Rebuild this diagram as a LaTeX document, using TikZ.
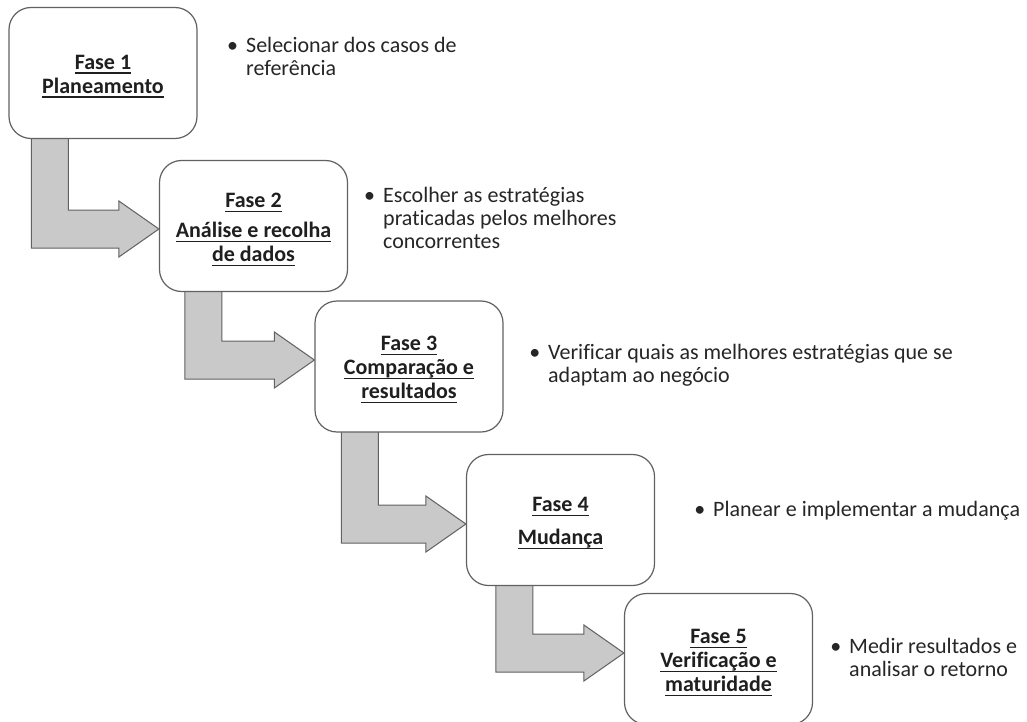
\documentclass[tikz,border=0pt]{standalone}
\usepackage{fontspec}
\setmainfont{Carlito}[Ligatures=NoCommon]
\usetikzlibrary{calc}

% underlined text with a fixed rule position below the baseline
\newsavebox\ulinebox
\newcommand{\ulx}[1]{\sbox\ulinebox{#1}\rlap{\rule[-4.4pt]{\wd\ulinebox}{1.2pt}}\usebox\ulinebox}
% extra room above the first line of a phase label
\newcommand{\topstrut}{\rule{0pt}{21pt}}

\pgfdeclarelayer{background}
\pgfsetlayers{background,main}

\tikzset{
  phase/.style={draw=black!62, line width=1.2pt, fill=white,
    rounded corners=22pt, minimum width=188pt, minimum height=131pt,
    inner sep=0pt, align=center, text=black!88,
    font=\fontsize{22}{24}\selectfont\bfseries},
  flow/.style={draw=black!62, line width=1pt, fill=black!21, line join=miter},
  note/.style={anchor=base west, align=left, inner sep=0pt, text=black!85,
    font=\fontsize{22}{23}\selectfont},
}

% bent block arrow leaving the bottom of #1 and pointing into the left side of #2;
% #3 = stem offset from the left side of #1, #4 = vertical offset of the tip
\newcommand{\phasearrow}[4]{%
  \draw[flow] let \p1=(#1.south west), \p2=($(#2.west)+(0,#4)$) in
    (\x1+#3pt,\y1+3pt) -- (\x1+#3pt+37pt,\y1+3pt) -- (\x1+#3pt+37pt,\y2+19pt)
    -- (\x2-40pt,\y2+19pt) -- (\x2-40pt,\y2+28pt) -- (\x2,\y2)
    -- (\x2-40pt,\y2-28pt) -- (\x2-40pt,\y2-19pt) -- (\x1+#3pt,\y2-19pt) -- cycle;}

\newcommand{\bul}{\llap{\textbullet\hspace{8pt}}}

\begin{document}
\begin{tikzpicture}[x=1pt,y=-1pt]
\useasboundingbox (0,0) rectangle (1027,722);

% phase boxes
\node[phase] (p1) at (103,73)    {\topstrut\ulx{Fase 1}\\\ulx{Planeamento}};
\node[phase] (p2) at (253.5,226) {\topstrut\ulx{Fase 2}\\[6pt]\ulx{Análise e recolha}\\\ulx{de dados}};
\node[phase] (p3) at (409,366.5) {\topstrut\ulx{Fase 3}\\\ulx{Comparação e}\\\ulx{resultados}};
\node[phase] (p4) at (560.5,520) {\topstrut\ulx{Fase 4}\\[9pt]\ulx{Mudança}};
\node[phase] (p5) at (718.5,659) {\topstrut\ulx{Fase 5}\\\ulx{Verificação e}\\\ulx{maturidade}};

% arrows between consecutive phases, kept underneath the boxes
\begin{pgfonlayer}{background}
\fill[white] (0,0) rectangle (1027,722);
\phasearrow{p1}{p2}{23}{3}
\phasearrow{p2}{p3}{26}{-6.5}
\phasearrow{p3}{p4}{27}{4}
\phasearrow{p4}{p5}{30}{-6}
\end{pgfonlayer}

% descriptions (anchored on the baseline of their last line)
\node[note] (d1) at (246,76)  {\bul Selecionar dos casos de\\referência};
\node[note] (d2) at (383,248) {\bul Escolher as estratégias\\praticadas pelos melhores\\concorrentes};
\node[note] (d3) at (548,382) {\bul Verificar quais as melhores estratégias que se\\adaptam ao negócio};
\node[note] (d4) at (713,516) {\bul Planear e implementar a mudança};
\node[note] (d5) at (849,676) {\bul Medir resultados e\\analisar o retorno};
\end{tikzpicture}
\end{document}
